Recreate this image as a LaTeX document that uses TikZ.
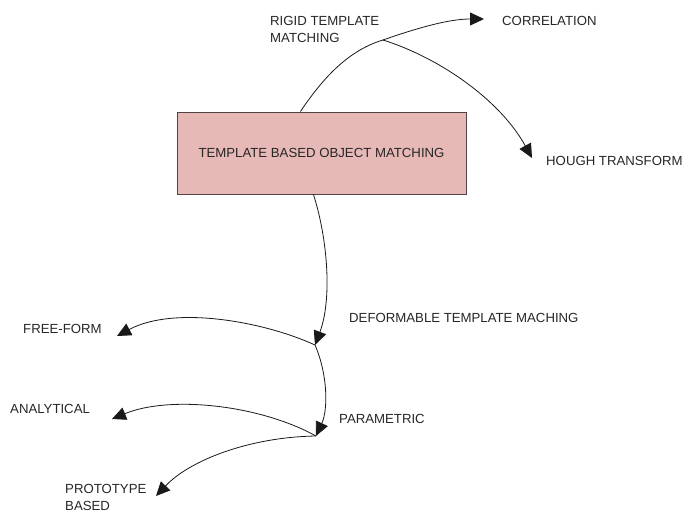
\documentclass[tikz,border=0pt]{standalone}
\usepackage{fontspec}
\setmainfont{Liberation Sans}
\usetikzlibrary{arrows.meta}
\definecolor{boxfill}{RGB}{230,185,183}
\definecolor{boxline}{RGB}{80,68,68}
\definecolor{inkgray}{RGB}{40,38,38}
\begin{document}
\begin{tikzpicture}[x=1pt,y=-1pt,
  lbl/.style={inner sep=0pt, anchor=base west, align=left,
    font=\fontsize{13.2}{16.5}\selectfont, text=inkgray},
  rootbox/.style={draw=boxline, fill=boxfill, line width=0.9pt,
    minimum width=289pt, minimum height=82pt, inner sep=0pt,
    font=\fontsize{13.2}{16.5}\selectfont, text=inkgray},
  link/.style={line width=0.8pt, draw=black!90},
  tip/.style={-{Triangle[length=14pt,width=13pt]}}]
\useasboundingbox (0,0) rectangle (684,512);

% central box
\node[rootbox] (root) at (321.5,153) {TEMPLATE BASED OBJECT MATCHING};

% labels (multi-line labels are anchored on their last baseline)
\node[lbl] (rigid) at (270,42) {RIGID TEMPLATE\\MATCHING};
\node[lbl] (corr)  at (502,25) {CORRELATION};
\node[lbl] (hough) at (546,165) {HOUGH TRANSFORM};
\node[lbl] (deform) at (349,322) {DEFORMABLE TEMPLATE MACHING};
\node[lbl] (free)  at (23,333) {FREE-FORM};
\node[lbl] (param) at (339,423) {PARAMETRIC};
\node[lbl] (anal)  at (10,413) {ANALYTICAL};
\node[lbl] (proto) at (65,510) {PROTOTYPE\\BASED};

% branch points and arrow ends
\coordinate (jr) at (383,40);
\coordinate (jd) at (315,345);
\coordinate (jp) at (316,436);
\coordinate (tcorr)  at (484,19);
\coordinate (though) at (532,158);
\coordinate (tfree)  at (117,336);
\coordinate (tanal)  at (112,419);
\coordinate (tproto) at (156,496);

% rigid branch
\draw[link] (root.117.7) .. controls (325,75) and (350,50) .. (jr);
\draw[link,tip] (jr) .. controls (420,27) and (450,19) .. (tcorr);
\draw[link,tip] (jr) .. controls (440,58) and (500,100) .. (though);

% deformable branch
\draw[link,tip] (root.259.6) .. controls (328,240) and (332,300) .. (jd);
\draw[link,tip] (jd) .. controls (265,322) and (175,305) .. (tfree);
\draw[link,tip] (jd) .. controls (328,375) and (328,410) .. (jp);
\draw[link,tip] (jp) .. controls (260,405) and (170,395) .. (tanal);
\draw[link,tip] (jp) .. controls (250,437) and (190,460) .. (tproto);
\end{tikzpicture}
\end{document}
